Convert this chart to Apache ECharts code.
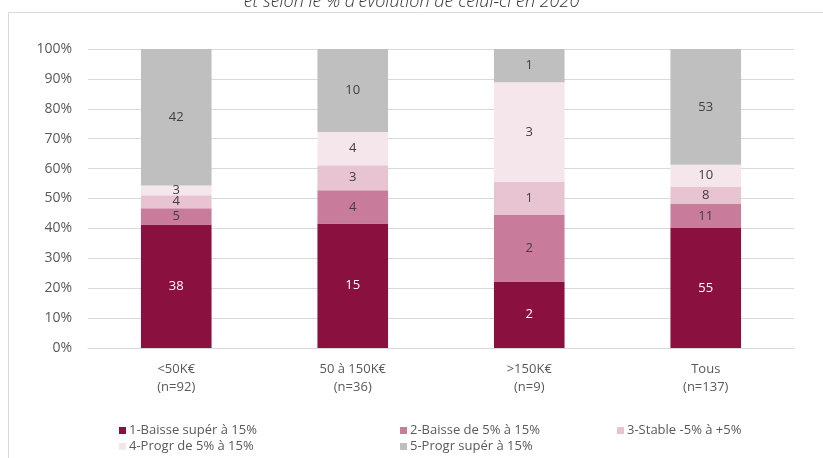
<!DOCTYPE html>
<html>
<head>
<meta charset="utf-8">
<script src="https://cdn.jsdelivr.net/npm/echarts@6/dist/echarts.min.js"></script>
<style>html,body{margin:0;padding:0;background:#fff;}#c{width:823px;height:458px;}</style>
</head>
<body>
<div id="c"></div>
<script>
const categories = ['<50K€\n(n=92)', '50 à 150K€\n(n=36)', '>150K€\n(n=9)', 'Tous\n(n=137)'];
const totals = [92, 36, 9, 137];
const seriesNames = ['1-Baisse supér à 15%', '2-Baisse de 5% à 15%', '3-Stable -5% à +5%', '4-Progr de 5% à 15%', '5-Progr supér à 15%'];
const baisseSup15 = [38, 15, 2, 55];
const baisse5a15 = [5, 4, 2, 11];
const stable = [4, 3, 1, 8];
const progr5a15 = [3, 4, 3, 10];
const progrSup15 = [42, 10, 1, 53];
const yTicks = [0, 10, 20, 30, 40, 50, 60, 70, 80, 90, 100];
const titleText = "et selon le % d'évolution de celui-ci en 2020";

const counts = [baisseSup15, baisse5a15, stable, progr5a15, progrSup15];
const colors = ['#8A1040', '#C97B9B', '#E8C3D1', '#F5E6EC', '#BFBFBF'];
const labelColors = ['#FFFFFF', '#404040', '#404040', '#404040', '#404040'];
const FONT = 'Open Sans';

const chart = echarts.init(document.getElementById('c'), null, {renderer: 'canvas'});
const series = counts.map((arr, i) => ({
  name: seriesNames[i],
  type: 'bar',
  stack: 'total',
  barWidth: '40%',
  itemStyle: {color: colors[i]},
  data: arr.map((v, j) => ({value: v / totals[j] * 100, count: v})),
  label: {
    show: true,
    position: 'inside',
    color: labelColors[i],
    fontFamily: FONT,
    fontSize: 13,
    formatter: p => p.data.count
  },
  emphasis: {disabled: true}
}));

function legendCol(left, names) {
  return {
    orient: 'vertical', left: left, top: 419,
    itemWidth: 7, itemHeight: 7, itemGap: 3,
    icon: 'rect',
    textStyle: {fontFamily: FONT, fontSize: 13, color: '#595959', padding: [0, 0, 0, -2]},
    data: names
  };
}

chart.setOption({
  animation: false,
  backgroundColor: '#fff',
  title: {
    text: titleText, left: 'center', top: -12,
    textStyle: {fontFamily: FONT, fontStyle: 'italic', fontWeight: 300, fontSize: 18, color: '#333'}
  },
  graphic: [{
    type: 'rect', shape: {x: 8.5, y: 12.5, width: 830, height: 460},
    style: {fill: 'none', stroke: '#D9D9D9', lineWidth: 1}, silent: true
  }],
  legend: [
    legendCol(114, [seriesNames[0], seriesNames[3]]),
    legendCol(395, [seriesNames[1], seriesNames[4]]),
    legendCol(612, [seriesNames[2]])
  ],
  grid: {left: 88, right: 29, top: 49, bottom: 110},
  xAxis: {
    type: 'category', data: categories,
    axisLine: {show: true, lineStyle: {color: '#D9D9D9'}},
    axisTick: {show: false},
    axisLabel: {fontFamily: FONT, fontSize: 13, color: '#595959', lineHeight: 18, margin: 12}
  },
  yAxis: {
    type: 'value', min: 0, max: 100, interval: 10,
    axisLine: {show: false}, axisTick: {show: false},
    splitLine: {lineStyle: {color: '#D9D9D9'}},
    axisLabel: {
      fontFamily: FONT, fontSize: 14, color: '#595959', margin: 16,
      formatter: v => yTicks.includes(v) ? v + '%' : ''
    }
  },
  series: series
});
</script>
</body>
</html>
